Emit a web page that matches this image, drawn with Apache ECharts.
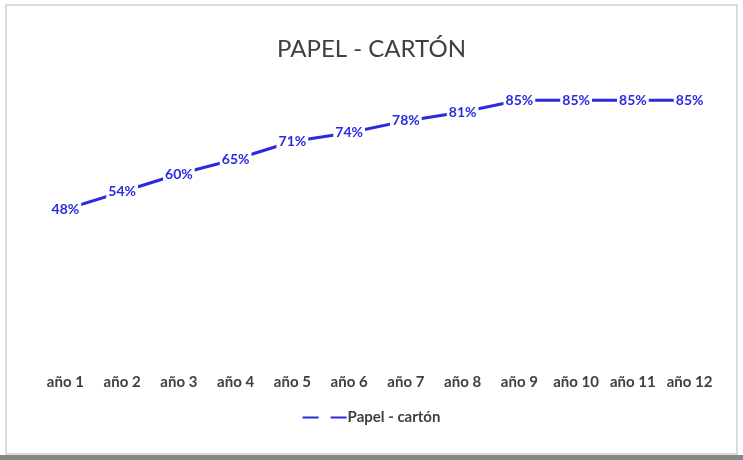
<!DOCTYPE html>
<html><head><meta charset="utf-8">
<script src="https://cdn.jsdelivr.net/npm/echarts@6/dist/echarts.min.js"></script>
<style>html,body{margin:0;padding:0;background:#fff}#c{width:743px;height:460px}</style>
</head><body><div id="c"></div>
<script>
const titleText = 'PAPEL - CARTÓN';
const seriesName = 'Papel - cartón';
const categories = ['año 1','año 2','año 3','año 4','año 5','año 6','año 7','año 8','año 9','año 10','año 11','año 12'];
const values = [48,54,60,65,71,74,78,81,85,85,85,85];

const chart = echarts.init(document.getElementById('c'));
chart.setOption({
  backgroundColor: '#fff',
  animation: false,
  graphic: [
    {type:'rect', shape:{x:6,y:5,width:731,height:449}, style:{fill:'none', stroke:'#d0d0d0', lineWidth:1.5}, silent:true},
    {type:'rect', shape:{x:0,y:455,width:743,height:5}, style:{fill:'#888'}, silent:true}
  ],
  title: {
    text: titleText, left: 'center', top: 32,
    textStyle: {fontFamily:'Lato', fontSize: 24, fontWeight: 'normal', color:'#404040'}
  },
  legend: {
    bottom: 30, left: 'center',
    itemWidth: 44, itemHeight: 10, itemGap: 4,
    icon: 'path://M0,4 L16,4 L16,6 L0,6 Z M28,4 L44,4 L44,6 L28,6 Z',
    itemStyle: {color:'#2a2ae0', opacity: 1, borderWidth: 0},
    textStyle: {fontFamily:'Lato', fontSize: 15, fontWeight:'bold', color:'#404040', padding:[0,0,0,-4]},
    data: [seriesName]
  },
  grid: {left: 37, right: 25, top: 56, height: 295},
  xAxis: {
    type: 'category', data: categories, boundaryGap: true,
    axisLine: {show:false}, axisTick: {show:false},
    axisLabel: {margin: 24, interval: 0, fontFamily:'Lato', fontSize: 15, fontWeight:'bold', color:'#404040'}
  },
  yAxis: {
    type: 'value', min: 0, max: 100,
    show: false, splitLine: {show:false}
  },
  series: [{
    name: seriesName, type: 'line', data: values,
    symbol: 'circle', symbolSize: 2, showSymbol: true,
    lineStyle: {color:'#2a2ae0', width: 3},
    itemStyle: {color:'#2a2ae0'},
    label: {
      show: true, position: 'inside', formatter: '{c}%',
      fontFamily:'Lato', fontSize: 14, fontWeight:'bold', color:'#2a2ae0',
      backgroundColor:'#fff', padding:[1,2]
    }
  }]
});
</script></body></html>
